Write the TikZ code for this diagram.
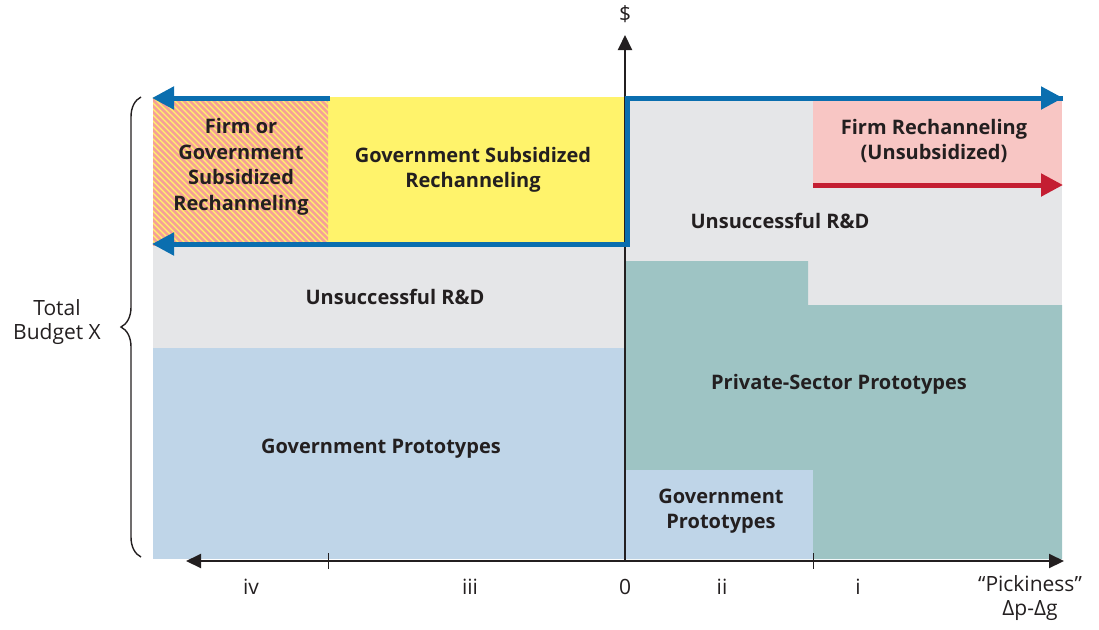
\documentclass[tikz,border=0pt]{standalone}
\usepackage{fontspec}
\setmainfont{Open Sans}
\usetikzlibrary{arrows.meta,decorations.pathreplacing}
\definecolor{bluearr}{RGB}{10,110,175}
\definecolor{yel}{RGB}{255,243,107}
\definecolor{pinkbg}{RGB}{248,198,196}
\definecolor{redarr}{RGB}{196,30,50}
\definecolor{grayreg}{RGB}{229,230,232}
\definecolor{lblue}{RGB}{191,213,232}
\definecolor{teal}{RGB}{158,196,196}
\definecolor{stripe}{RGB}{245,160,150}
\definecolor{ink}{RGB}{35,31,32}
\tikzset{
  lab/.style={font=\fontsize{20}{25.5}\selectfont\bfseries, text=ink, align=center, inner sep=0pt},
  axlab/.style={font=\fontsize{21}{24.5}\selectfont, text=ink, align=center, inner sep=0pt},
  bluearrow/.style={draw=bluearr, line width=5pt, -{Triangle[length=22pt,width=22pt]}},
  redarrow/.style={draw=redarr, line width=5pt, -{Triangle[length=22pt,width=22pt]}},
  axis/.style={draw=ink, line width=2pt, -{Triangle[length=15pt,width=14pt]}},
  tick/.style={draw=ink, line width=1pt}
}
\begin{document}
\begin{tikzpicture}[x=1pt,y=-1pt]
\useasboundingbox (0,0) rectangle (1099,629);
% regions
\fill[grayreg] (153,245) rectangle (625,348);
\fill[lblue] (153,348) rectangle (625,559);
\fill[yel] (328,97) rectangle (625,245);
\fill[yel] (153,97) rectangle (328,245);
\begin{scope}
\clip (153,97) rectangle (328,245);
\foreach \i in {-160,-154,...,180} \draw[stripe, line width=2.5pt] (153+\i,90) -- ++(170,170);
\end{scope}
\fill[grayreg] (625,98) rectangle (1062,305);
\fill[pinkbg] (813,98) rectangle (1062,186);
\fill[teal] (625,261) -- (808,261) -- (808,305) -- (1062,305) -- (1062,559) -- (625,559) -- cycle;
\fill[lblue] (625,470) rectangle (813,559);
% coordinates
\coordinate (o) at (625,561);
\coordinate (ytop) at (625,35);
\coordinate (xl) at (186,561);
\coordinate (xr) at (1064,561);
\coordinate (tl1) at (330,98);
\coordinate (tl2) at (152,98);
\coordinate (bl1) at (627,244);
\coordinate (bl2) at (152,244);
\coordinate (cr) at (627,98);
\coordinate (tr) at (1063,98);
\coordinate (r1) at (813,185);
\coordinate (r2) at (1063,185);
\coordinate (t1a) at (328,553);
\coordinate (t1b) at (328,569);
\coordinate (t2a) at (813,553);
\coordinate (t2b) at (813,569);
\coordinate (bra) at (141,557);
\coordinate (brb) at (141,97);
% axes
\draw[axis] (o) -- (ytop);
\draw[axis] (o) -- (xl);
\draw[axis] (o) -- (xr);
\draw[tick] (t1a) -- (t1b);
\draw[tick] (t2a) -- (t2b);
% blue arrows
\draw[bluearrow] (tl1) -- (tl2);
\draw[bluearrow] (tr) -- (cr) -- (bl1) -- (bl2);
\draw[bluearr, line width=5pt] (bl1) -- (cr) -- (tr);
\draw[bluearrow] (cr) -- (tr);
\draw[redarrow] (r1) -- (r2);
% brace
\draw[ink, line width=1.4pt, decorate, decoration={brace, amplitude=20pt}] (bra) -- (brb);
% labels
\node[lab] (firm) at (241,167) {Firm or\\Government\\Subsidized\\Rechanneling};
\node[lab] (gsr) at (473,170) {Government Subsidized\\Rechanneling};
\node[lab] (fru) at (934,141) {Firm Rechanneling\\(Unsubsidized)};
\node[lab] (urd1) at (780,221) {Unsuccessful R\&D};
\node[lab] (urd2) at (395,297) {Unsuccessful R\&D};
\node[lab] (pspt) at (839,384) {Private-Sector Prototypes};
\node[lab] (gp1) at (381,449) {Government Prototypes};
\node[lab] (gp2) at (721,511) {Government\\Prototypes};
\node[axlab] (tb) at (57,322) {Total\\Budget X};
\node[axlab] (dol) at (625,14) {\$};
\node[axlab] (liv) at (251,587) {iv};
\node[axlab] (liii) at (470,587) {iii};
\node[axlab] (l0) at (625,587) {0};
\node[axlab] (lii) at (722,587) {ii};
\node[axlab] (li) at (858,587) {i};
\node[axlab] (pick) at (1030,598) {“Pickiness”\\Δp-Δg};
\end{tikzpicture}
\end{document}
